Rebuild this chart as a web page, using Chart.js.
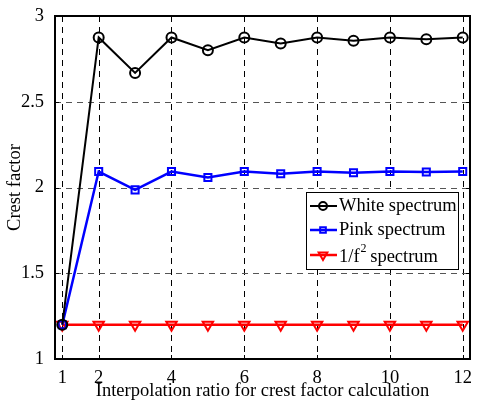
<!DOCTYPE html>
<html>
<head>
<meta charset="utf-8">
<script src="https://cdn.jsdelivr.net/npm/chart.js@4/dist/chart.umd.min.js"></script>
<style>
  html, body { margin: 0; padding: 0; background: #fff; }
  #wrap { width: 478px; height: 400px; }
</style>
</head>
<body>
<div id="wrap"><canvas id="myChart" width="478" height="400"></canvas></div>
<script>
const ratios = [1, 2, 3, 4, 5, 6, 7, 8, 9, 10, 11, 12];
const white = [1.2, 2.875, 2.668, 2.875, 2.80, 2.875, 2.84, 2.875, 2.855, 2.875, 2.864, 2.875];
const pink  = [1.2, 2.093, 1.986, 2.093, 2.058, 2.093, 2.08, 2.093, 2.086, 2.093, 2.09, 2.093];
const fsq   = [1.2, 1.2, 1.2, 1.2, 1.2, 1.2, 1.2, 1.2, 1.2, 1.2, 1.2, 1.2];
const xTicks = [1, 2, 4, 6, 8, 10, 12];
const yTicks = [1, 1.5, 2, 2.5, 3];

const serif = 'Liberation Serif';
const fs = 18.5;
const pts = ys => ratios.map((x, i) => ({ x, y: ys[i] }));

// dashed grid, box frame with inward ticks
const framePlugin = {
  id: 'frame',
  beforeDatasetsDraw(chart) {
    const { ctx, chartArea: a, scales: { x, y } } = chart;
    ctx.save();
    ctx.lineWidth = 1;
    ctx.setLineDash([6, 5]);
    ctx.strokeStyle = '#000';
    xTicks.forEach(v => {
      const px = Math.round(x.getPixelForValue(v)) + 0.5;
      ctx.beginPath(); ctx.moveTo(px, a.top); ctx.lineTo(px, a.bottom); ctx.stroke();
    });
    ctx.strokeStyle = '#555';
    yTicks.slice(1, -1).forEach(v => {
      const py = Math.round(y.getPixelForValue(v)) + 0.5;
      ctx.beginPath(); ctx.moveTo(a.left, py); ctx.lineTo(a.right, py); ctx.stroke();
    });
    ctx.restore();
  },
  afterDraw(chart) {
    const { ctx, chartArea: a, scales: { x, y } } = chart;
    ctx.save();
    ctx.strokeStyle = '#000';
    ctx.lineWidth = 2;
    ctx.strokeRect(a.left, a.top, a.right - a.left, a.bottom - a.top);
    ctx.lineWidth = 1;
    xTicks.forEach(v => {
      const px = Math.round(x.getPixelForValue(v)) + 0.5;
      ctx.beginPath(); ctx.moveTo(px, a.bottom); ctx.lineTo(px, a.bottom - 4);
      ctx.moveTo(px, a.top); ctx.lineTo(px, a.top + 4); ctx.stroke();
    });
    yTicks.forEach(v => {
      const py = Math.round(y.getPixelForValue(v)) + 0.5;
      ctx.beginPath(); ctx.moveTo(a.left, py); ctx.lineTo(a.left + 4, py);
      ctx.moveTo(a.right, py); ctx.lineTo(a.right - 4, py); ctx.stroke();
    });
    ctx.restore();
  }
};

// legend box inside the plot
const boxLegend = {
  id: 'boxLegend',
  afterDraw(chart) {
    const { ctx } = chart;
    const bx = 306, by = 192, bw = 152, bh = 77;
    ctx.save();
    ctx.fillStyle = '#fff';
    ctx.fillRect(bx, by, bw, bh);
    ctx.strokeStyle = '#000';
    ctx.lineWidth = 1;
    ctx.strokeRect(bx + 0.5, by + 0.5, bw, bh);
    const rows = [206, 230, 255];
    const font = s => s + 'px "' + serif + '"';
    chart.data.datasets.forEach((ds, i) => {
      const cy = rows[i];
      ctx.strokeStyle = ds.borderColor;
      ctx.lineWidth = ds.borderWidth;
      ctx.beginPath(); ctx.moveTo(310, cy); ctx.lineTo(337, cy); ctx.stroke();
      ctx.fillStyle = 'rgba(0,0,0,0)';
      ctx.lineWidth = ds.pointBorderWidth;
      Chart.helpers.drawPoint(ctx, {
        pointStyle: ds.pointStyle, radius: ds.pointRadius - 1, rotation: ds.pointRotation || 0,
        borderWidth: ds.pointBorderWidth
      }, 323, cy);
      ctx.fillStyle = '#000';
      ctx.font = font(fs);
      ctx.textBaseline = 'middle';
      ctx.textAlign = 'left';
      if (i === 2) {
        ctx.fillText('1/f', 339, cy + 2);
        const w = ctx.measureText('1/f').width;
        ctx.font = font(12);
        ctx.fillText('2', 339 + w + 1, cy - 6);
        ctx.font = font(fs);
        ctx.fillText(' spectrum', 339 + w + 6, cy + 2);
      } else {
        ctx.fillText(ds.label, 339, cy);
      }
    });
    ctx.restore();
  }
};

const ctx = document.getElementById('myChart').getContext('2d');

const data = {
  datasets: [
    {
      label: 'White spectrum', data: pts(white),
      borderColor: '#000', borderWidth: 2,
      pointStyle: 'circle', pointRadius: 5, pointBorderWidth: 2,
      pointBackgroundColor: 'rgba(0,0,0,0)', pointBorderColor: '#000'
    },
    {
      label: 'Pink spectrum', data: pts(pink),
      borderColor: '#0000ff', borderWidth: 2.5,
      pointStyle: 'rect', pointRadius: 5, pointBorderWidth: 2,
      pointBackgroundColor: 'rgba(0,0,0,0)', pointBorderColor: '#0000ff'
    },
    {
      label: '1/f\u00b2 spectrum', data: pts(fsq),
      borderColor: '#ff0000', borderWidth: 2.5,
      pointStyle: 'triangle', pointRotation: 180, pointRadius: 6, pointBorderWidth: 2,
      pointBackgroundColor: 'rgba(0,0,0,0)', pointBorderColor: '#ff0000'
    }
  ]
};

const config = {
  type: 'line',
  data,
  options: {
    responsive: false,
    animation: false,
    layout: { padding: { top: 16, right: 3, left: 0, bottom: 0 } },
    plugins: { legend: { display: false }, tooltip: { enabled: false } },
    scales: {
      x: {
        type: 'linear', min: 0.8, max: 12.2,
        afterBuildTicks: s => { s.ticks = xTicks.map(v => ({ value: v })); },
        afterFit: s => { s.height = 41; },
        grid: { display: false },
        border: { display: false },
        ticks: { color: '#000', padding: 0, maxRotation: 0, autoSkip: false,
                 font: { family: serif, size: fs } },
        title: { display: true, text: 'Interpolation ratio for crest factor calculation',
                 color: '#000', font: { family: serif, size: fs }, padding: { top: 0, bottom: -2 } }
      },
      y: {
        min: 1, max: 3,
        afterBuildTicks: s => { s.ticks = yTicks.map(v => ({ value: v })); },
        afterFit: s => { s.width = 55; },
        grid: { display: false },
        border: { display: false },
        ticks: { color: '#000', padding: 3, font: { family: serif, size: fs },
                 callback: v => String(v) },
        title: { display: true, text: 'Crest factor', color: '#000',
                 font: { family: serif, size: fs }, padding: { top: 4, bottom: 0 } }
      }
    }
  },
  plugins: [framePlugin, boxLegend]
};

const myChart = new Chart(ctx, config);
</script>
</body>
</html>
